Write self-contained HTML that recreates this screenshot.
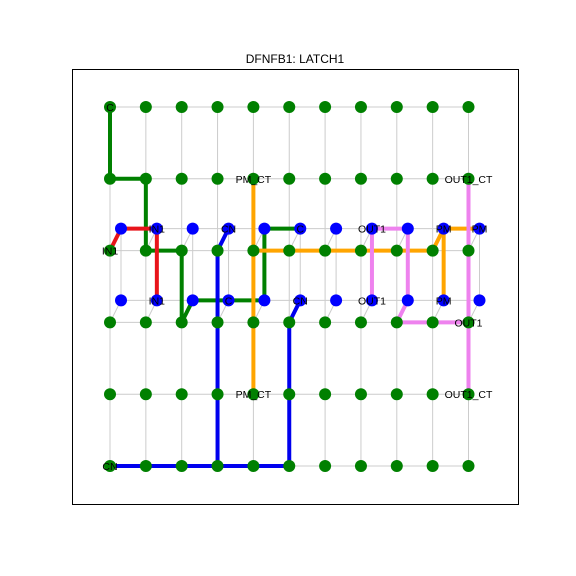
<!DOCTYPE html>
<html><head><meta charset="utf-8"><style>
body{margin:0;background:#fff}
svg{display:block;font-family:"Liberation Sans","DejaVu Sans",sans-serif}
</style></head><body>
<svg id="c" width="576" height="576" viewBox="0 0 576 576">
<rect width="576" height="576" fill="#fff"/>
<text x="295" y="63" text-anchor="middle" font-size="12">DFNFB1: LATCH1</text>
<rect x="72.5" y="69.5" width="446" height="435" fill="none" stroke="#000" stroke-width="1"/>
<g id="grid"></g><g id="wires"></g><g id="nodes"></g><g id="labels"></g>
</svg>
<script>
// nodes: green grid cols 0..10, rows 0..5; blue pins at rows 2,3 ("b" rows)
const cols = [0,1,2,3,4,5,6,7,8,9,10];
const rows = [0,1,2,3,4,5];
const pinRows = [2,3];
// wires: list of [col,row,isPin] points
const wireColors = ["green","red","blue","blue","orange","orange","orange","violet","violet","violet"];
const wirePaths = [
 [[0,0,0],[0,1,0],[1,1,0],[1,2,0],[2,2,0],[2,3,0],[2,3,1],[4,3,1],[4,2,1],[5,2,1]],
 [[0,2,0],[0,2,1],[1,2,1],[1,3,1]],
 [[3,2,1],[3,2,0],[3,5,0],[0,5,0]],
 [[3,5,0],[5,5,0],[5,3,0],[5,3,1]],
 [[4,1,0],[4,4,0]],
 [[4,2,0],[9,2,0],[9,2,1],[10,2,1]],
 [[9,2,1],[9,3,1]],
 [[7,2,1],[8,2,1],[8,3,1],[8,3,0],[10,3,0]],
 [[7,2,1],[7,3,1]],
 [[10,1,0],[10,4,0]]
];
const labelText = ["C","PM_CT","OUT1_CT","IN1","CN","C","OUT1","PM","PM","IN1","IN1","C","CN","OUT1","PM","OUT1","PM_CT","OUT1_CT","CN"];
const labelPos = [[0,0,0],[4,1,0],[10,1,0],[1,2,1],[3,2,1],[5,2,1],[7,2,1],[9,2,1],[10,2,1],[0,2,0],[1,3,1],[3,3,1],[5,3,1],[7,3,1],[9,3,1],[10,3,0],[4,4,0],[10,4,0],[0,5,0]];

const NS="http://www.w3.org/2000/svg";
const X=c=>110+35.85*c, Y=r=>107+71.8*r;
const PX=(c,r,p)=>X(c)+(p?11:0), PY=(c,r,p)=>Y(r)-(p?22:0);
const colorMap={green:"#008000",red:"#e8141b",blue:"#0000ee",orange:"#ffa500",violet:"#ee82ee"};
function mk(tag,attrs,parent){const e=document.createElementNS(NS,tag);for(const k in attrs)e.setAttribute(k,attrs[k]);document.getElementById(parent).appendChild(e);return e;}
const gs={stroke:"#cccccc","stroke-width":1};
rows.forEach(r=>{const e=mk("line",Object.assign({x1:X(0),x2:X(10),y1:Y(r),y2:Y(r)},gs),"grid");

});
cols.forEach(c=>{const e=mk("line",Object.assign({x1:X(c),x2:X(c),y1:Y(0),y2:Y(5)},gs),"grid");

});
pinRows.forEach(r=>{const e=mk("line",Object.assign({x1:PX(0,r,1),x2:PX(10,r,1),y1:PY(0,r,1),y2:PY(0,r,1)},gs),"grid");


cols.forEach(c=>{const d=mk("line",Object.assign({x1:X(c),y1:Y(r),x2:PX(c,r,1),y2:PY(c,r,1)},gs),"grid");

});});
cols.forEach(c=>{const e=mk("line",Object.assign({x1:PX(c,2,1),x2:PX(c,2,1),y1:PY(c,2,1),y2:PY(c,3,1)},gs),"grid");

});
wirePaths.forEach((p,i)=>{const e=mk("polyline",{points:p.map(q=>PX(...q)+","+PY(...q)).join(" "),fill:"none",stroke:colorMap[wireColors[i]],"stroke-width":4,"stroke-linejoin":"round"},"wires");

});
rows.forEach(r=>cols.forEach(c=>{const e=mk("circle",{cx:X(c),cy:Y(r),r:6,fill:"#008000"},"nodes");

}));
pinRows.forEach(r=>cols.forEach(c=>{const e=mk("circle",{cx:PX(c,r,1),cy:PY(c,r,1),r:6,fill:"#0000ff"},"nodes");

}));
labelText.forEach((t,i)=>{const q=labelPos[i];const e=mk("text",{x:PX(...q),y:PY(...q)+4,"text-anchor":"middle","font-size":10.5},"labels");e.textContent=t;

});
</script>
</body></html>
